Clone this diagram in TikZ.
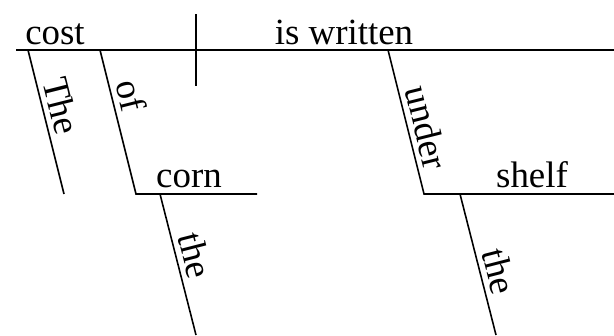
\documentclass[tikz,border=0pt]{standalone}
\usepackage{fontspec}
\setmainfont{Liberation Serif}
\usetikzlibrary{positioning,calc}
\tikzset{
  word/.style={inner sep=0pt, anchor=base, font=\fontsize{21}{25}\selectfont},
  slant word/.style={sloped, above, inner sep=3pt, font=\fontsize{21}{25}\selectfont},
  base line/.style={line width=1.2pt},
  mod line/.style={line width=0.9pt}
}
\begin{document}
\begin{tikzpicture}[x=0.02cm, y=-0.02cm]
  \useasboundingbox (0,0) rectangle (614,335);
  % Main line: subject | predicate
  \coordinate (mainL) at (16,50);
  \coordinate (mainR) at (614,50);
  \coordinate (divT) at (196,14);
  \coordinate (divB) at (196,86);
  \draw[base line] (mainL) -- (mainR);
  \draw[base line] (divT) -- (divB);
  \node[word] (cost) at (55,44) {cost};
  \node[word] (verb) at (344,44) {is written};

  % Modifiers of the subject
  \coordinate (theT) at (28,50);
  \coordinate (theB) at (64,194);
  \draw[mod line] (theT) -- node[slant word, pos=0.42] (The) {The} (theB);
  \coordinate (ofT) at (100,50);
  \coordinate (ofB) at (136,194);
  \coordinate (cornR) at (257,194);
  \draw[mod line] (ofT) -- node[slant word, pos=0.35] (of) {of} (ofB) -- (cornR);
  \node[word] (corn) at (189,187) {corn};
  \coordinate (the1T) at (160,194);
  \coordinate (the1B) at (196,335);
  \draw[mod line] (the1T) -- node[slant word, pos=0.47] (the1) {the} (the1B);

  % Modifier of the verb
  \coordinate (underT) at (388,50);
  \coordinate (underB) at (424,194);
  \coordinate (shelfR) at (614,194);
  \draw[mod line] (underT) -- node[slant word, pos=0.57] (under) {under} (underB) -- (shelfR);
  \node[word] (shelf) at (532,187) {shelf};
  \coordinate (the2T) at (460,194);
  \coordinate (the2B) at (496,335);
  \draw[mod line] (the2T) -- node[slant word, pos=0.58] (the2) {the} (the2B);
\end{tikzpicture}
\end{document}
